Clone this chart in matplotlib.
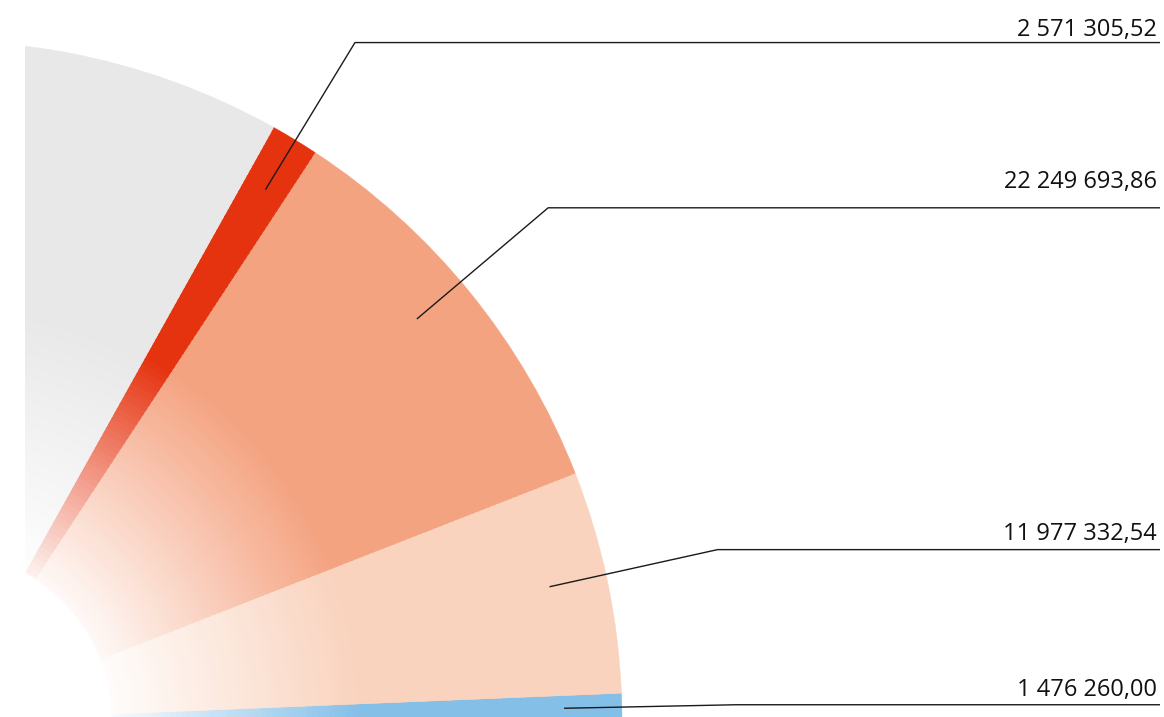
import numpy as np
import matplotlib
matplotlib.use("Agg")
import matplotlib.pyplot as plt
from matplotlib.patches import Wedge
from matplotlib.colors import to_rgb

# ---- data (counter-clockwise from the right-hand horizontal) ----
labels = ["1 476 260,00", "11 977 332,54", "22 249 693,86", "2 571 305,52"]
values = [1476260.00, 11977332.54, 22249693.86, 2571305.52]
colors = ["#84BFE8", "#F9D3BE", "#F4A381", "#E5330F"]
rest_value = 188300000.0          # unlabeled grey remainder (estimated)
rest_color = "#E8E8E8"

# label layout tweaks (style only)
label_angle_nudge = [0.0, 0.6, 1.2, -0.1]   # degrees
label_text_gap = [9, 10, 20, 7]             # px above connector

plt.rcParams["font.family"] = ["Open Sans", "DejaVu Sans"]

W, H = 1164, 717
fig = plt.figure(figsize=(W / 100, H / 100), dpi=100)
left_px = 25
ax = fig.add_axes([left_px / W, 0, (W - left_px) / W, 1])
ax.set_axis_off()
ax.set_aspect("equal")
ax.set_xlim((58 + left_px) / 680, (W + 58) / 680)
ax.set_ylim(4 / 680, 721 / 680)

R_OUT = 1.0
R_IN = 0.25
R_FULL = 0.62
N_RINGS = 90

all_vals = values + [rest_value]
all_cols = colors + [rest_color]
total = sum(all_vals)
angles = np.concatenate([[0], np.cumsum(all_vals) / total * 360.0])

white = np.array([1.0, 1.0, 1.0])
edges = np.linspace(R_IN, R_OUT, N_RINGS + 1)
for i, col in enumerate(all_cols):
    t1, t2 = angles[i], angles[i + 1]
    base = np.array(to_rgb(col))
    for k in range(N_RINGS):
        r0, r1 = edges[k], edges[k + 1]
        rm = 0.5 * (r0 + r1)
        t = np.clip((rm - R_IN) / (R_FULL - R_IN), 0, 1)
        a = 0.05 + 0.95 * t
        c = white * (1 - a) + base * a
        w = Wedge((0, 0), r1, t1, t2, width=(r1 - r0) * 1.6 if k > 0 else (r1 - r0),
                  facecolor=c, edgecolor=c, linewidth=0.3)
        ax.add_patch(w)

# ---- leader lines and labels ----
R_ANCHOR = 0.915
R_ELBOW = 1.168
X_END = 1218 / 680
px = 1 / 680
for i, lab in enumerate(labels):
    mid = np.deg2rad(0.5 * (angles[i] + angles[i + 1]) + label_angle_nudge[i])
    ax_, ay_ = R_ANCHOR * np.cos(mid), R_ANCHOR * np.sin(mid)
    ex, ey = R_ELBOW * np.cos(mid), R_ELBOW * np.sin(mid)
    ax.plot([ax_, ex, X_END], [ay_, ey, ey], color="#1a1a1a", lw=1.0,
            solid_capstyle="butt", zorder=5, clip_on=False)
    ax.text(X_END - 3 * px, ey + label_text_gap[i] * px, lab, ha="right",
            va="baseline", fontsize=17, color="#111111", zorder=6)

fig.savefig("out.png", dpi=100)
